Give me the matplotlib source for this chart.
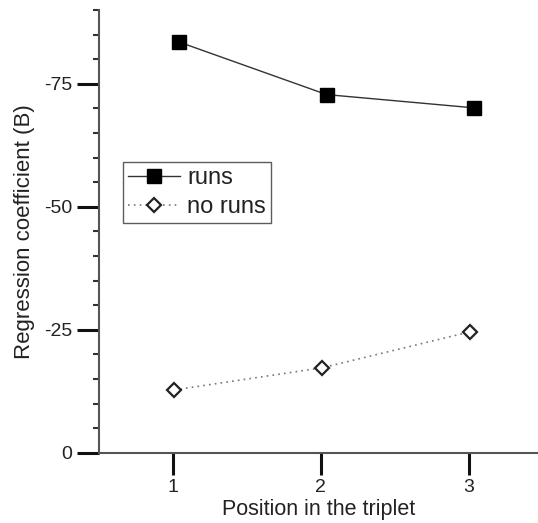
import matplotlib
matplotlib.use("Agg")
import matplotlib.pyplot as plt
from matplotlib.ticker import MultipleLocator

plt.rcParams['font.family'] = ['Liberation Sans', 'DejaVu Sans']
plt.rcParams['axes.unicode_minus'] = False

positions = [1, 2, 3]
runs = [-83.5, -72.8, -70.1]
no_runs = [-12.8, -17.3, -24.6]

fig = plt.figure(figsize=(5.38, 5.23), dpi=100)
ax = fig.add_axes([0.184, 0.134, 0.816, 0.847])

ax.plot([p + 0.04 for p in positions], runs, color='#333333', lw=1.0,
        marker='s', ms=10.5, mfc='black', mec='black', label='runs')
ax.plot([p + 0.01 for p in positions], no_runs, color='#777777', lw=1.2,
        ls=(0, (1, 2.5)), marker='D', ms=7.5, mfc='white', mec='#222222',
        mew=1.6, label='no runs')

ax.set_xlim(0.5, 3.47)
ax.set_ylim(0, -90)
ax.set_xticks(positions)
ax.set_yticks([0, -25, -50, -75])
ax.yaxis.set_minor_locator(MultipleLocator(5))

for s in ['top', 'right']:
    ax.spines[s].set_visible(False)
for s in ['left', 'bottom']:
    ax.spines[s].set_color('#555555')
    ax.spines[s].set_linewidth(1.5)

ax.tick_params(axis='both', which='major', length=16, width=2.2,
               color='#111111', labelsize=14, labelcolor='#222222', pad=3)
ax.tick_params(axis='y', which='minor', length=4, width=1.5, color='#333333')

ax.set_xlabel('Position in the triplet', fontsize=15.5, labelpad=2, color='#222222')
ax.set_ylabel('Regression coefficient (B)', fontsize=16, labelpad=7, color='#222222')

leg = ax.legend(loc='upper left', bbox_to_anchor=(0.055, 0.657), fontsize=17,
                frameon=True, fancybox=False, borderpad=0.22, handlelength=2.2,
                handletextpad=0.3, labelspacing=0.3, borderaxespad=0)
leg.get_frame().set_edgecolor('#333333')
leg.get_frame().set_linewidth(1.0)
for t in leg.get_texts():
    t.set_color('#222222')

fig.savefig('out.png', dpi=100)
